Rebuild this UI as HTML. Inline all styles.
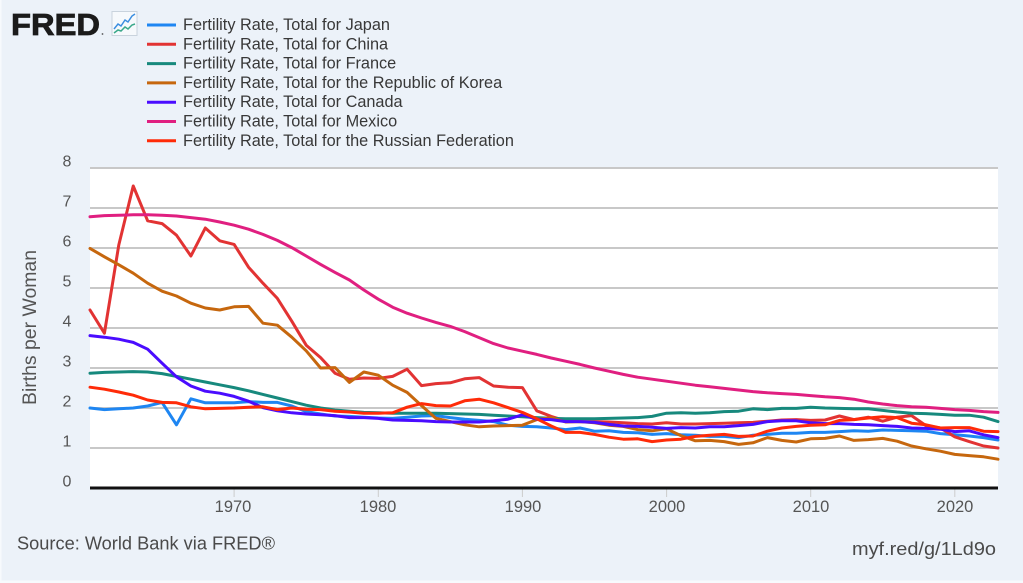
<!DOCTYPE html>
<html>
<head>
<meta charset="utf-8">
<style>
  html,body{margin:0;padding:0;}
  body{width:1023px;height:583px;overflow:hidden;background:#ecf2f9;}
  svg{display:block;}
  text{font-family:"Liberation Sans",Arial,sans-serif;}
</style>
</head>
<body>
<svg width="1023" height="583" viewBox="0 0 1023 583" xmlns="http://www.w3.org/2000/svg">
  <rect x="0" y="0" width="1023" height="583" fill="#ecf2f9"/>
  <rect x="0" y="0" width="1.5" height="583" fill="#f7fafd"/>
  <rect x="0" y="580.5" width="1023" height="2.5" fill="#f7fafd"/>

  <!-- FRED logo -->
  <text x="11" y="35" font-size="31" font-weight="bold" fill="#1b1b1b" stroke="#1b1b1b" stroke-width="0.8" textLength="89" lengthAdjust="spacingAndGlyphs">FRED</text>
  <circle cx="102.5" cy="34" r="0.9" fill="#555"/>
  <rect x="112" y="11.5" width="25" height="24" fill="#f6f9fc" stroke="#c9d3dd" stroke-width="1"/>
  <polyline points="114,29 118,24 121,26 125,20 128,22 132,16 135,14" fill="none" stroke="#3b8ee0" stroke-width="1.5"/>
  <polyline points="114,33 118,30 121,31 125,27 128,29 132,25 135,24" fill="none" stroke="#3aa88a" stroke-width="1.5"/>

  <!-- Legend -->
  <g stroke-width="3">
    <line x1="147" y1="25" x2="176" y2="25" stroke="#1e86f2"/>
    <line x1="147" y1="44.3" x2="176" y2="44.3" stroke="#e23333"/>
    <line x1="147" y1="63.6" x2="176" y2="63.6" stroke="#17897d"/>
    <line x1="147" y1="82.9" x2="176" y2="82.9" stroke="#c6670e"/>
    <line x1="147" y1="102.2" x2="176" y2="102.2" stroke="#4a0cff"/>
    <line x1="147" y1="121.5" x2="176" y2="121.5" stroke="#e01f80"/>
    <line x1="147" y1="140.8" x2="176" y2="140.8" stroke="#ff2b08"/>
  </g>
  <g font-size="16.3" fill="#383838">
    <text x="183" y="30">Fertility Rate, Total for Japan</text>
    <text x="183" y="49.3">Fertility Rate, Total for China</text>
    <text x="183" y="68.6">Fertility Rate, Total for France</text>
    <text x="183" y="87.9">Fertility Rate, Total for the Republic of Korea</text>
    <text x="183" y="107.2">Fertility Rate, Total for Canada</text>
    <text x="183" y="126.5">Fertility Rate, Total for Mexico</text>
    <text x="183" y="145.8">Fertility Rate, Total for the Russian Federation</text>
  </g>

  <!-- Plot area -->
  <rect x="90" y="167" width="908" height="321" fill="#ffffff"/>
  <g stroke="#c8c8c8" stroke-width="2">
    <line x1="90" y1="168" x2="998" y2="168"/>
    <line x1="90" y1="208" x2="998" y2="208"/>
    <line x1="90" y1="248" x2="998" y2="248"/>
    <line x1="90" y1="288" x2="998" y2="288"/>
    <line x1="90" y1="328" x2="998" y2="328"/>
    <line x1="90" y1="368" x2="998" y2="368"/>
    <line x1="90" y1="408" x2="998" y2="408"/>
    <line x1="90" y1="448" x2="998" y2="448"/>
  </g>

  <!-- x ticks -->
  <g stroke="#cccccc" stroke-width="1">
    <line x1="234.1" y1="489" x2="234.1" y2="497"/>
    <line x1="378.3" y1="489" x2="378.3" y2="497"/>
    <line x1="522.4" y1="489" x2="522.4" y2="497"/>
    <line x1="666.6" y1="489" x2="666.6" y2="497"/>
    <line x1="810.7" y1="489" x2="810.7" y2="497"/>
    <line x1="954.8" y1="489" x2="954.8" y2="497"/>
  </g>

  <!-- Series -->
  <g transform="matrix(14.413 0 0 -40 90 488)" fill="none" stroke-width="3" stroke-linejoin="round" stroke-linecap="round">
    <polyline vector-effect="non-scaling-stroke" stroke="#1e86f2" points="0,2 1,1.96 2,1.98 3,2 4,2.05 5,2.14 6,1.58 7,2.23 8,2.13 9,2.13 10,2.13 11,2.16 12,2.14 13,2.14 14,2.05 15,1.91 16,1.85 17,1.8 18,1.79 19,1.77 20,1.75 21,1.74 22,1.77 23,1.8 24,1.81 25,1.76 26,1.72 27,1.69 28,1.66 29,1.57 30,1.54 31,1.53 32,1.5 33,1.46 34,1.5 35,1.42 36,1.43 37,1.39 38,1.38 39,1.34 40,1.36 41,1.33 42,1.32 43,1.29 44,1.29 45,1.26 46,1.32 47,1.34 48,1.37 49,1.37 50,1.39 51,1.39 52,1.41 53,1.43 54,1.42 55,1.45 56,1.44 57,1.43 58,1.42 59,1.36 60,1.33 61,1.3 62,1.26 63,1.2"/>
    <polyline vector-effect="non-scaling-stroke" stroke="#e23333" points="0,4.45 1,3.87 2,6.08 3,7.55 4,6.68 5,6.61 6,6.32 7,5.8 8,6.5 9,6.18 10,6.09 11,5.52 12,5.12 13,4.74 14,4.17 15,3.57 16,3.26 17,2.87 18,2.72 19,2.75 20,2.74 21,2.79 22,2.97 23,2.56 24,2.61 25,2.63 26,2.73 27,2.76 28,2.55 29,2.52 30,2.51 31,1.93 32,1.79 33,1.68 34,1.66 35,1.66 36,1.65 37,1.63 38,1.61 39,1.6 40,1.63 41,1.6 42,1.6 43,1.61 44,1.62 45,1.63 46,1.64 47,1.67 48,1.7 49,1.71 50,1.69 51,1.7 52,1.8 53,1.71 54,1.77 55,1.67 56,1.77 57,1.81 58,1.56 59,1.5 60,1.28 61,1.16 62,1.05 63,1"/>
    <polyline vector-effect="non-scaling-stroke" stroke="#17897d" points="0,2.87 1,2.89 2,2.9 3,2.91 4,2.9 5,2.86 6,2.79 7,2.72 8,2.65 9,2.58 10,2.51 11,2.43 12,2.34 13,2.25 14,2.16 15,2.07 16,2 17,1.95 18,1.92 19,1.89 20,1.88 21,1.87 22,1.87 23,1.87 24,1.87 25,1.86 26,1.85 27,1.84 28,1.82 29,1.8 30,1.78 31,1.76 32,1.74 33,1.73 34,1.73 35,1.73 36,1.74 37,1.75 38,1.76 39,1.79 40,1.87 41,1.88 42,1.87 43,1.88 44,1.91 45,1.92 46,1.98 47,1.96 48,1.99 49,1.99 50,2.02 51,2 52,1.99 53,1.98 54,1.98 55,1.94 56,1.9 57,1.87 58,1.86 59,1.84 60,1.82 61,1.82 62,1.77 63,1.66"/>
    <polyline vector-effect="non-scaling-stroke" stroke="#c6670e" points="0,5.99 1,5.78 2,5.58 3,5.37 4,5.12 5,4.92 6,4.8 7,4.62 8,4.5 9,4.45 10,4.53 11,4.54 12,4.12 13,4.07 14,3.77 15,3.43 16,3 17,3.01 18,2.64 19,2.9 20,2.82 21,2.57 22,2.39 23,2.06 24,1.74 25,1.66 26,1.58 27,1.53 28,1.55 29,1.56 30,1.57 31,1.71 32,1.76 33,1.65 34,1.66 35,1.63 36,1.57 37,1.54 38,1.46 39,1.43 40,1.48 41,1.31 42,1.18 43,1.19 44,1.16 45,1.09 46,1.13 47,1.26 48,1.19 49,1.15 50,1.23 51,1.24 52,1.3 53,1.19 54,1.21 55,1.24 56,1.17 57,1.05 58,0.98 59,0.92 60,0.84 61,0.81 62,0.78 63,0.72"/>
    <polyline vector-effect="non-scaling-stroke" stroke="#4a0cff" points="0,3.81 1,3.77 2,3.72 3,3.64 4,3.47 5,3.12 6,2.78 7,2.55 8,2.42 9,2.37 10,2.29 11,2.17 12,2.01 13,1.93 14,1.88 15,1.85 16,1.83 17,1.81 18,1.76 19,1.76 20,1.74 21,1.7 22,1.69 23,1.68 24,1.66 25,1.65 26,1.65 27,1.65 28,1.68 29,1.72 30,1.83 31,1.72 32,1.71 33,1.66 34,1.66 35,1.64 36,1.59 37,1.55 38,1.54 39,1.52 40,1.49 41,1.51 42,1.5 43,1.53 44,1.53 45,1.56 46,1.59 47,1.66 48,1.68 49,1.68 50,1.63 51,1.61 52,1.61 53,1.59 54,1.58 55,1.56 56,1.54 57,1.5 58,1.49 59,1.47 60,1.41 61,1.43 62,1.33 63,1.26"/>
    <polyline vector-effect="non-scaling-stroke" stroke="#e01f80" points="0,6.78 1,6.81 2,6.82 3,6.83 4,6.83 5,6.82 6,6.8 7,6.76 8,6.72 9,6.65 10,6.57 11,6.47 12,6.34 13,6.19 14,6.01 15,5.8 16,5.59 17,5.39 18,5.2 19,4.95 20,4.72 21,4.52 22,4.37 23,4.25 24,4.14 25,4.04 26,3.91 27,3.76 28,3.61 29,3.5 30,3.42 31,3.34 32,3.25 33,3.17 34,3.09 35,3 36,2.92 37,2.84 38,2.77 39,2.72 40,2.67 41,2.62 42,2.57 43,2.53 44,2.49 45,2.45 46,2.41 47,2.38 48,2.36 49,2.34 50,2.31 51,2.28 52,2.26 53,2.22 54,2.15 55,2.1 56,2.06 57,2.03 58,2.02 59,1.99 60,1.96 61,1.94 62,1.91 63,1.89"/>
    <polyline vector-effect="non-scaling-stroke" stroke="#ff2b08" points="0,2.52 1,2.47 2,2.4 3,2.32 4,2.2 5,2.14 6,2.13 7,2.03 8,1.98 9,1.99 10,2 11,2.02 12,2.03 13,1.96 14,2 15,1.97 16,1.96 17,1.92 18,1.9 19,1.87 20,1.87 21,1.88 22,2.02 23,2.11 24,2.06 25,2.05 26,2.18 27,2.22 28,2.13 29,2.01 30,1.89 31,1.73 32,1.55 33,1.39 34,1.39 35,1.34 36,1.27 37,1.22 38,1.23 39,1.16 40,1.2 41,1.22 42,1.29 43,1.32 44,1.34 45,1.29 46,1.3 47,1.42 48,1.5 49,1.54 50,1.57 51,1.58 52,1.69 53,1.71 54,1.75 55,1.78 56,1.76 57,1.62 58,1.58 59,1.5 60,1.51 61,1.51 62,1.42 63,1.41"/>
  </g>

  <!-- x axis line -->
  <rect x="90" y="486.5" width="908" height="3" fill="#111111"/>

  <!-- y tick labels -->
  <g font-size="16" fill="#555555" text-anchor="middle">
    <text x="67" y="166.5">8</text>
    <text x="67" y="206.5">7</text>
    <text x="67" y="246.5">6</text>
    <text x="67" y="286.5">5</text>
    <text x="67" y="326.5">4</text>
    <text x="67" y="366.5">3</text>
    <text x="67" y="406.5">2</text>
    <text x="67" y="446.5">1</text>
    <text x="67" y="486.5">0</text>
  </g>

  <!-- y title -->
  <text transform="translate(36,327.5) rotate(-90)" font-size="19" fill="#555555" text-anchor="middle" textLength="155" lengthAdjust="spacingAndGlyphs">Births per Woman</text>

  <!-- x tick labels -->
  <g font-size="16.5" fill="#555555" text-anchor="middle">
    <text x="233" y="512">1970</text>
    <text x="378" y="512">1980</text>
    <text x="523" y="512">1990</text>
    <text x="667" y="512">2000</text>
    <text x="811" y="512">2010</text>
    <text x="955" y="512">2020</text>
  </g>

  <!-- footer -->
  <text x="17" y="549.5" font-size="18.5" fill="#4a4a4a" textLength="258" lengthAdjust="spacingAndGlyphs">Source: World Bank via FRED®</text>
  <text x="852" y="555" font-size="18.5" fill="#4a4a4a" textLength="144" lengthAdjust="spacingAndGlyphs">myf.red/g/1Ld9o</text>
</svg>
</body>
</html>
